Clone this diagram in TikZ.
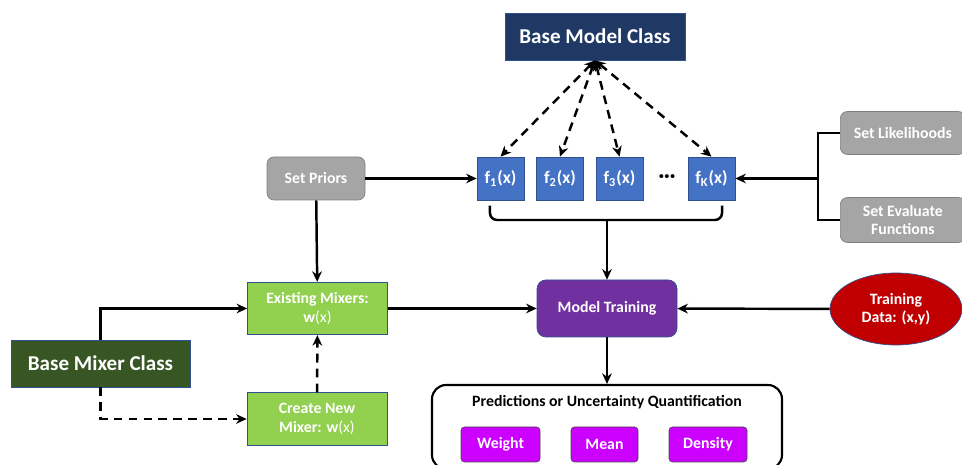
\documentclass[tikz,border=0pt]{standalone}
\usepackage{fontspec}
\setmainfont{Carlito}
\usetikzlibrary{arrows.meta,shapes.geometric}

\definecolor{navy}{HTML}{1F3864}
\definecolor{fblue}{HTML}{4472C4}
\definecolor{edgeblue}{HTML}{2F528F}
\definecolor{setgray}{HTML}{A5A5A5}
\definecolor{mixgreen}{HTML}{92D050}
\definecolor{basegreen}{HTML}{375623}
\definecolor{trainpurple}{HTML}{7030A0}
\definecolor{datared}{HTML}{C00000}
\definecolor{outmagenta}{HTML}{CC00FF}

\begin{document}
\begin{tikzpicture}[
  box/.style      = {draw=edgeblue, thin, text=white, font=\fontsize{9}{10.5}\selectfont\bfseries,
                     align=center, inner sep=2pt},
  classbox/.style = {box, font=\fontsize{12}{14}\selectfont\bfseries},
  fbox/.style     = {box, fill=fblue, minimum width=9.4mm, minimum height=8.6mm,
                     font=\fontsize{10}{12}\selectfont\bfseries},
  setbox/.style   = {box, fill=setgray, draw=gray, rounded corners=4pt, minimum height=8.6mm},
  mixbox/.style   = {box, fill=mixgreen, minimum width=28mm, minimum height=10.5mm},
  outbox/.style   = {box, fill=outmagenta, draw=black!70, rounded corners=2pt, minimum height=7mm},
  arr/.style      = {line width=1.4pt, -{Stealth[length=6pt,width=5.5pt]}},
  dasharr/.style  = {arr, dashed, dash pattern=on 5pt off 3.5pt},
  twoway/.style   = {dasharr, {Stealth[length=6pt,width=5.5pt]}-{Stealth[length=6pt,width=5.5pt]}},
  line/.style     = {line width=1.4pt},
]
  \useasboundingbox (0,0) rectangle (19.24,9.30);

  % model side
  \node[classbox, fill=navy, minimum width=36mm, minimum height=9.4mm] (bmc) at (11.90,8.57) {Base Model Class};
  \node[fbox] (f1) at (10.01,5.73) {f\textsubscript{1}(x)};
  \node[fbox] (f2) at (11.20,5.73) {f\textsubscript{2}(x)};
  \node[fbox] (f3) at (12.39,5.73) {f\textsubscript{3}(x)};
  \node[font=\fontsize{12}{14}\selectfont\bfseries, inner sep=0pt] (dots) at (13.34,5.73)
    {\textperiodcentered\textperiodcentered\textperiodcentered};
  \node[fbox] (fK) at (14.23,5.73) {f\textsubscript{K}(x)};

  \node[setbox, minimum width=19.6mm] (priors) at (6.32,5.73) {Set Priors};
  \node[setbox, minimum width=25mm, anchor=west] (lik)  at (16.80,6.64) {Set Likelihoods};
  \node[setbox, minimum width=25mm, minimum height=9mm, anchor=west] (eval) at (16.80,4.90) {Set Evaluate\\Functions};

  % mixer side
  \node[mixbox] (exist)  at (6.35,3.13) {Existing Mixers:\\w{\mdseries(x)}};
  \node[mixbox] (create) at (6.34,0.92) {Create New\\Mixer: w{\mdseries(x)}};
  \node[classbox, fill=basegreen, minimum width=35.8mm, minimum height=9.4mm] (bmix) at (2.01,2.03) {Base Mixer Class};

  \node[box, fill=trainpurple, rounded corners=5pt, minimum width=28mm, minimum height=11.4mm] (train) at (12.14,3.13) {Model Training};
  \node[ellipse, draw=edgeblue, thin, fill=datared, text=white, font=\fontsize{9}{10.5}\selectfont\bfseries,
        align=center, minimum width=26.4mm, minimum height=14.4mm, inner sep=0pt] (data) at (17.92,3.12) {Training\\Data: (x,y)};

  % outputs
  \node[draw=black, line width=1.2pt, rounded corners=8pt, minimum width=70mm, minimum height=16.8mm] (pred) at (12.14,0.76) {};
  \node[font=\fontsize{9}{10.5}\selectfont\bfseries] (predlbl) at (12.14,1.26) {Predictions or Uncertainty Quantification};
  \node[outbox, minimum width=15.8mm] (weight)  at (10.01,0.41) {Weight};
  \node[outbox, minimum width=13.4mm] (mean)    at (12.09,0.41) {Mean};
  \node[outbox, minimum width=15.6mm] (density) at (14.16,0.41) {Density};

  % base model class to each f
  \foreach \f in {f1,f2,f3,fK}
    \draw[twoway] (bmc.south) -- (\f.north);

  % brace under the f's
  \coordinate (bl) at ([xshift=-6pt]f1.south);
  \coordinate (br) at ([xshift=6pt]fK.south);
  \coordinate (bmid) at (train.north |- 0,4.90);
  \draw[line, rounded corners=4pt] ([yshift=-3pt]bl) |- (bmid) -| ([yshift=-3pt]br);
  \draw[arr] (bmid) -- (train.north);

  % likelihood / evaluate bracket
  \coordinate (join) at (16.36,5.73);
  \draw[line] (lik.west) -| (join) |- (eval.west);
  \draw[arr] (join) -- (fK.east);

  \draw[arr] (priors) -- (f1);
  \draw[arr] (priors) -- (exist);
  \draw[arr] (exist) -- (train);
  \draw[arr] (data) -- (train);
  \draw[arr] (train) -- (pred.north);

  \draw[arr] (bmix.north) |- (exist.west);
  \draw[dasharr] (bmix.south) |- (create.west);
  \draw[dasharr] (create) -- (exist);
\end{tikzpicture}
\end{document}
